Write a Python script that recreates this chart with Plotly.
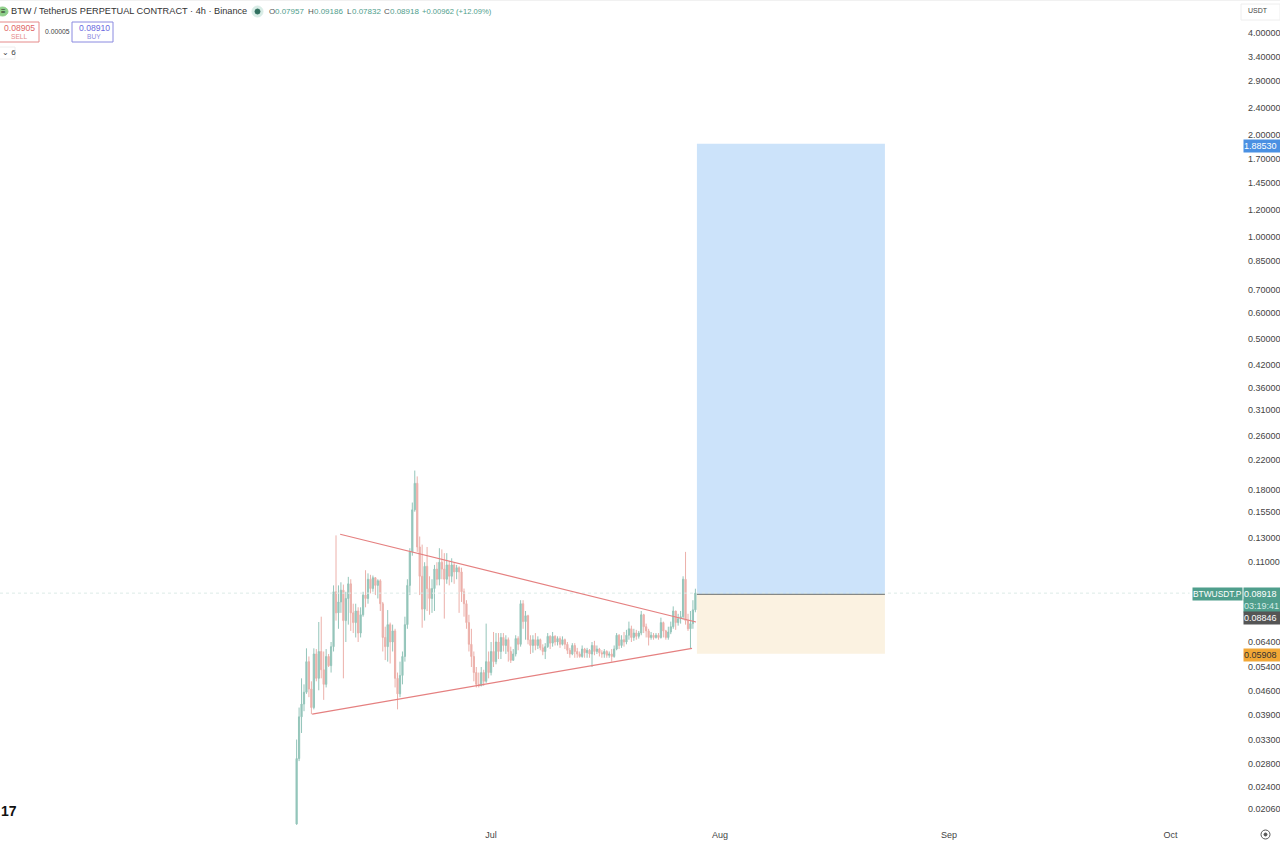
import pandas as pd
import plotly.graph_objects as go

# 8h steps
start_time = "2025-06-04 16:00"
first_open = 0.0186

closes = [0.0290, 0.0385, 0.0420, 0.0455, 0.0560, 0.0465, 0.0410, 0.0590, 0.0500, 0.0600,
          0.0530, 0.0480, 0.0580, 0.0545, 0.0620, 0.0900, 0.0780, 0.0840, 0.0910, 0.0740,
          0.0860, 0.0950, 0.0780, 0.0730, 0.0790, 0.0680, 0.0770, 0.0880, 0.0860, 0.0980,
          0.0920, 0.0990, 0.0940, 0.0970, 0.0830, 0.0660, 0.0620, 0.0720, 0.0640, 0.0690,
          0.0500, 0.0450, 0.0510, 0.0580, 0.0720, 0.0940, 0.1180, 0.1570, 0.1880, 0.1220,
          0.1000, 0.0800, 0.1070, 0.0920, 0.0860, 0.0920, 0.1050, 0.0980, 0.1100, 0.1050,
          0.0980, 0.1080, 0.1000, 0.1080, 0.1030, 0.1060, 0.1030, 0.0900, 0.0830, 0.0730,
          0.0630, 0.0580, 0.0520, 0.0480, 0.0475, 0.0520, 0.0490, 0.0560, 0.0520, 0.0600,
          0.0560, 0.0640, 0.0600, 0.0660, 0.0625, 0.0650, 0.0600, 0.0565, 0.0590, 0.0655,
          0.0630, 0.0830, 0.0735, 0.0765, 0.0650, 0.0625, 0.0650, 0.0625, 0.0650, 0.0615,
          0.0600, 0.0620, 0.0665, 0.0635, 0.0665, 0.0640, 0.0655, 0.0630, 0.0650, 0.0630,
          0.0605, 0.0590, 0.0625, 0.0600, 0.0590, 0.0580, 0.0610, 0.0595, 0.0605, 0.0590,
          0.0625, 0.0600, 0.0610, 0.0595, 0.0590, 0.0600, 0.0585, 0.0590, 0.0580, 0.0610,
          0.0670, 0.0625, 0.0650, 0.0640, 0.0670, 0.0700, 0.0660, 0.0680, 0.0665, 0.0680,
          0.0770, 0.0710, 0.0690, 0.0660, 0.0670, 0.0660, 0.0670, 0.0660, 0.0730, 0.0690,
          0.0660, 0.0685, 0.0710, 0.0790, 0.0730, 0.0750, 0.0760, 0.0980, 0.0740, 0.0700,
          0.0725, 0.0796, 0.0892]

highs = [0.0330, 0.0410, 0.0500, 0.0480, 0.0613, 0.0580, 0.0490, 0.0613, 0.0610, 0.0733,
         0.0760, 0.0600, 0.0610, 0.0590, 0.0640, 0.0940, 0.1320, 0.0940, 0.0960, 0.0945,
         0.0900, 0.0996, 0.0980, 0.0830, 0.0830, 0.0810, 0.0810, 0.0900, 0.1042, 0.1020,
         0.1010, 0.1005, 0.0995, 0.0980, 0.0980, 0.0840, 0.0710, 0.0795, 0.0730, 0.0720,
         0.0700, 0.0520, 0.0560, 0.0600, 0.0760, 0.0980, 0.1210, 0.1650, 0.2050, 0.1970,
         0.1310, 0.1240, 0.1100, 0.1220, 0.1000, 0.0980, 0.1080, 0.1100, 0.1210, 0.1200,
         0.1170, 0.1170, 0.1110, 0.1130, 0.1100, 0.1080, 0.1070, 0.1060, 0.0920, 0.0850,
         0.0770, 0.0700, 0.0600, 0.0540, 0.0520, 0.0540, 0.0530, 0.0725, 0.0600, 0.0640,
         0.0685, 0.0680, 0.0680, 0.0680, 0.0680, 0.0670, 0.0660, 0.0620, 0.0610, 0.0670,
         0.0665, 0.0850, 0.0850, 0.0790, 0.0770, 0.0670, 0.0670, 0.0680, 0.0665, 0.0655,
         0.0630, 0.0635, 0.0680, 0.0670, 0.0685, 0.0670, 0.0665, 0.0665, 0.0665, 0.0655,
         0.0640, 0.0615, 0.0635, 0.0635, 0.0615, 0.0600, 0.0625, 0.0615, 0.0615, 0.0610,
         0.0640, 0.0645, 0.0625, 0.0615, 0.0605, 0.0610, 0.0605, 0.0600, 0.0610, 0.0625,
         0.0680, 0.0675, 0.0670, 0.0685, 0.0695, 0.0735, 0.0715, 0.0700, 0.0695, 0.0690,
         0.0790, 0.0775, 0.0725, 0.0700, 0.0685, 0.0680, 0.0680, 0.0680, 0.0755, 0.0735,
         0.0695, 0.0710, 0.0735, 0.0815, 0.0790, 0.0775, 0.0790, 0.1000, 0.1180, 0.0775,
         0.0790, 0.0850, 0.0919]

lows = [0.0185, 0.0285, 0.0345, 0.0400, 0.0450, 0.0440, 0.0392, 0.0405, 0.0490, 0.0461,
        0.0500, 0.0432, 0.0470, 0.0540, 0.0520, 0.0600, 0.0740, 0.0700, 0.0780, 0.0500,
        0.0640, 0.0720, 0.0690, 0.0680, 0.0660, 0.0640, 0.0660, 0.0760, 0.0810, 0.0830,
        0.0890, 0.0900, 0.0880, 0.0860, 0.0790, 0.0600, 0.0566, 0.0560, 0.0553, 0.0600,
        0.0470, 0.0405, 0.0440, 0.0480, 0.0560, 0.0700, 0.0880, 0.1150, 0.1550, 0.1180,
        0.0880, 0.0705, 0.0740, 0.0790, 0.0770, 0.0780, 0.0790, 0.0940, 0.0940, 0.0980,
        0.0750, 0.0950, 0.0940, 0.0960, 0.0950, 0.0980, 0.0780, 0.0840, 0.0760, 0.0700,
        0.0600, 0.0540, 0.0490, 0.0470, 0.0470, 0.0475, 0.0475, 0.0485, 0.0500, 0.0510,
        0.0540, 0.0550, 0.0570, 0.0570, 0.0600, 0.0590, 0.0560, 0.0555, 0.0565, 0.0580,
        0.0605, 0.0620, 0.0700, 0.0650, 0.0630, 0.0590, 0.0595, 0.0605, 0.0610, 0.0605,
        0.0585, 0.0570, 0.0615, 0.0610, 0.0620, 0.0625, 0.0625, 0.0615, 0.0625, 0.0610,
        0.0590, 0.0575, 0.0585, 0.0575, 0.0575, 0.0575, 0.0575, 0.0575, 0.0575, 0.0575,
        0.0540, 0.0585, 0.0590, 0.0580, 0.0575, 0.0575, 0.0575, 0.0575, 0.0560, 0.0575,
        0.0605, 0.0610, 0.0615, 0.0620, 0.0630, 0.0650, 0.0640, 0.0645, 0.0650, 0.0655,
        0.0670, 0.0680, 0.0660, 0.0625, 0.0650, 0.0650, 0.0655, 0.0650, 0.0655, 0.0660,
        0.0650, 0.0650, 0.0675, 0.0700, 0.0695, 0.0715, 0.0725, 0.0745, 0.0720, 0.0690,
        0.0613, 0.0700, 0.0783]

opens = [first_open] + closes[:-1]

price_ticks = [4.0, 3.4, 2.9, 2.4, 2.0, 1.7, 1.45, 1.2, 1.0, 0.85, 0.7, 0.6, 0.5, 0.42, 0.36,
               0.31, 0.26, 0.22, 0.18, 0.155, 0.13, 0.11, 0.064, 0.054, 0.046, 0.039, 0.033,
               0.028, 0.024, 0.0206]
month_ticks = ["2025-07-01", "2025-08-01", "2025-09-01", "2025-10-01"]
month_labels = ["Jul", "Aug", "Sep", "Oct"]

last_price = 0.08918
target_price = 1.8853
entry_price = 0.08846
stop_price = 0.05908
box_start = "2025-07-28 21:00"
box_end = "2025-08-23 08:00"

upper_times = ["2025-06-10 13:30", "2025-07-28 18:00"]
upper_prices = [0.1330, 0.0733]
lower_times = ["2025-06-06 18:30", "2025-07-28 05:00"]
lower_prices = [0.0392, 0.0613]
first_time = "2025-04-25 12:00"
last_time = "2025-10-10 10:00"
price_line_end = "2025-10-03 14:00"

PLOT_W = 1240
PLOT_H = 826
FONT = "Liberation Sans"
UP = "#94c5ba"
DOWN = "#ecb0aa"
LINE = "#e58080"
TEAL = "#4f9e8c"


def px(x):
    return x / PLOT_W


def py(y):
    return (PLOT_H - y) / PLOT_H


times = pd.date_range(start_time, periods=len(closes), freq="8h")

fig = go.Figure()

fig.add_trace(go.Scatter(x=[first_time, price_line_end], y=[last_price, last_price], mode="lines",
                         line=dict(color="#dcebe7", width=1, dash="dot"), hoverinfo="skip"))

fig.add_trace(go.Candlestick(x=times, open=opens, high=highs, low=lows, close=closes,
                             whiskerwidth=0,
                             increasing=dict(line=dict(color=UP, width=1), fillcolor=UP),
                             decreasing=dict(line=dict(color=DOWN, width=1), fillcolor=DOWN)))

fig.add_trace(go.Scatter(x=upper_times, y=upper_prices, mode="lines",
                         line=dict(color=LINE, width=1.2), hoverinfo="skip"))
fig.add_trace(go.Scatter(x=lower_times, y=lower_prices, mode="lines",
                         line=dict(color=LINE, width=1.2), hoverinfo="skip"))

# long position box
fig.add_shape(type="rect", x0=box_start, x1=box_end, y0=entry_price, y1=target_price,
              fillcolor="#cce3fa", line_width=0, layer="below")
fig.add_shape(type="rect", x0=box_start, x1=box_end, y0=stop_price, y1=entry_price,
              fillcolor="#fbf2e1", line_width=0, layer="below")
fig.add_trace(go.Scatter(x=[box_start, box_end], y=[entry_price, entry_price], mode="lines",
                         line=dict(color="#6b7070", width=1), hoverinfo="skip"))


def label(text, x, y, color="#444444", size=9, bg=None, w=None, h=None, align="left", bold=False):
    fig.add_annotation(text=f"<b>{text}</b>" if bold else text, xref="paper", yref="paper",
                       x=px(x), y=py(y), xanchor="left", yanchor="top", showarrow=False,
                       align=align, valign="middle", width=w, height=h, bgcolor=bg, borderpad=0,
                       font=dict(family=FONT, size=size, color=color))


def box(x0, y0, x1, y1, line="#cccccc", fill="rgba(0,0,0,0)", kind="rect"):
    fig.add_shape(type=kind, xref="paper", yref="paper", x0=px(x0), x1=px(x1), y0=py(y0), y1=py(y1),
                  line=dict(color=line, width=1), fillcolor=fill, layer="above")


# header
box(0, 0, 1280, 0, line="#e4e4e4", kind="line")
box(-3, 7, 8, 16, line="#8fcf8a", fill="#8fcf8a", kind="circle")
label("≡", 0, 6, color="#222222", size=8)
label("BTW / TetherUS PERPETUAL CONTRACT · 4h · Binance", 10, 5, color="#333333", size=9.2)
box(252, 6, 263, 17, line="#d8ece6", fill="#d8ece6", kind="circle")
box(255, 9, 260, 14, line="#2f6f5e", fill="#2f6f5e", kind="circle")
label("O", 268, 6, color="#555555", size=8)
label("0.07957", 274, 6, color=TEAL, size=8)
label("H", 307, 6, color="#555555", size=8)
label("0.09186", 313, 6, color=TEAL, size=8)
label("L", 346, 6, color="#555555", size=8)
label("0.07832", 351, 6, color=TEAL, size=8)
label("C", 383, 6, color="#555555", size=8)
label("0.08918", 389, 6, color=TEAL, size=8)
label("+0.00962 (+12.09%)", 421, 6, color=TEAL, size=7.6)

# order buttons
box(-3, 22, 39, 42, line="#e58a8a")
label("0.08905", 3, 22, color="#e06666", size=8.6)
label("SELL", 10, 32, color="#e58a8a", size=6.6)
label("0.00005", 44, 27, color="#444444", size=6.8)
box(72, 22, 113, 42, line="#8a8ae0")
label("0.08910", 78, 22, color="#6a6ae0", size=8.6)
label("BUY", 86, 32, color="#8a8ae0", size=6.6)
box(-3, 47, 15, 59, line="#eeeeee")
label("⌄ 6", 1, 47, color="#444444", size=8)

label("17", 0, 802, color="#111111", size=14, bold=True)

# axis boxes
box(1241, 4, 1280, 20, line="#eeeeee")
label("USDT", 1247, 6, color="#444444", size=7)
label("1.88530", 1243, 139, color="#ffffff", size=9, bg="#4a90e2", w=37, h=12)
label("BTWUSDT.P", 1192, 587, color="#ffffff", size=8.4, bg=TEAL, w=49, h=12)
label("0.08918", 1243, 587, color="#ffffff", size=9, bg=TEAL, w=37, h=12)
label("03:19:41", 1243, 599, color="#d3ebe5", size=9, bg=TEAL, w=37, h=12)
label("0.08846", 1243, 611, color="#ffffff", size=9, bg="#555555", w=37, h=12)
label("0.05908", 1243, 648, color="#333333", size=9, bg="#f2a735", w=37, h=12)
box(1261, 830, 1270, 839, line="#555555", kind="circle")
box(1264, 833, 1267, 836, line="#555555", fill="#555555", kind="circle")

fig.update_layout(
    width=1280, height=844, margin=dict(l=0, r=40, t=0, b=18),
    paper_bgcolor="white", plot_bgcolor="white", showlegend=False,
    font=dict(family=FONT, color="#444444", size=9),
)
fig.update_xaxes(range=[first_time, last_time], type="date", rangeslider_visible=False,
                 tickvals=month_ticks, ticktext=month_labels, showgrid=False, zeroline=False,
                 showline=False, ticks="", ticklabelstandoff=2, tickfont=dict(size=9, color="#444444"))
fig.update_yaxes(type="log", range=[-1.7365, 0.6995], side="right", tickvals=price_ticks,
                 ticktext=[f"{p:.5f}" for p in price_ticks], showgrid=False, zeroline=False,
                 showline=False, ticks="", ticklabelstandoff=7, tickfont=dict(size=9, color="#444444"))

fig.write_html("out.html", config={"displayModeBar": False},
               post_script="document.body.style.margin = '0';")
